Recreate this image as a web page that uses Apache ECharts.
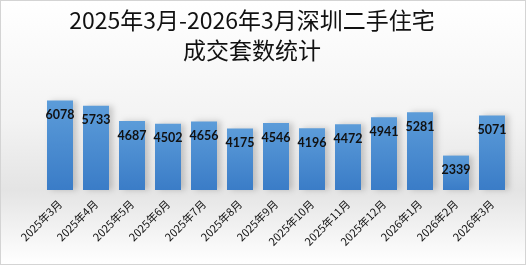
<!DOCTYPE html>
<html>
<head>
<meta charset="utf-8">
<script src="https://cdn.jsdelivr.net/npm/echarts@6/dist/echarts.min.js"></script>
<style>
html,body{margin:0;padding:0;background:#fff;}
#c{width:526px;height:265px;box-sizing:border-box;border:1px solid #d4d4d4;}
</style>
</head>
<body>
<div id="c"></div>
<script>
const categories = ['2025年3月','2025年4月','2025年5月','2025年6月','2025年7月','2025年8月','2025年9月','2025年10月','2025年11月','2025年12月','2026年1月','2026年2月','2026年3月'];
const values = [6078, 5733, 4687, 4502, 4656, 4175, 4546, 4196, 4472, 4941, 5281, 2339, 5071];
const titleLines = ['2025年3月-2026年3月深圳二手住宅', '成交套数统计'];

const chart = echarts.init(document.getElementById('c'), null, {renderer: 'canvas'});
chart.setOption({
  animation: false,
  backgroundColor: new echarts.graphic.LinearGradient(0, 0, 0, 1, [
    {offset: 0, color: '#ffffff'},
    {offset: 0.45, color: '#f3f3f3'},
    {offset: 0.72, color: '#e4e4e4'},
    {offset: 1, color: '#ffffff'}
  ]),
  title: {
    text: titleLines.join('\n'),
    left: 251,
    textAlign: 'center',
    top: 4,
    padding: 0,
    textStyle: {
      fontFamily: '"Noto Sans CJK SC", sans-serif',
      fontWeight: 'normal',
      fontSize: 23,
      lineHeight: 30,
      color: '#111'
    }
  },
  grid: {left: 41, right: 15, top: 86, bottom: 74, containLabel: false},
  xAxis: {
    type: 'category',
    data: categories,
    axisLine: {show: false},
    axisTick: {show: false},
    axisLabel: {
      rotate: 45,
      margin: 12,
      interval: 0,
      fontSize: 11,
      color: '#111',
      fontFamily: '"Noto Sans CJK SC", sans-serif'
    }
  },
  yAxis: {
    type: 'value',
    min: 0,
    max: 7000,
    show: false,
    splitLine: {show: false}
  },
  series: [{
    type: 'bar',
    data: values,
    barWidth: 26,
    itemStyle: {
      color: new echarts.graphic.LinearGradient(0, 0, 0, 1, [
        {offset: 0, color: '#5c9cd9'},
        {offset: 1, color: '#3a7cc7'}
      ]),
      shadowColor: 'rgba(0,0,0,0.18)',
      shadowBlur: 6,
      shadowOffsetX: 4,
      shadowOffsetY: 0
    },
    label: {
      show: true,
      position: 'insideTop',
      distance: 8,
      fontSize: 12.5,
      fontWeight: 'bold',
      color: '#111',
      fontFamily: 'Lato, sans-serif'
    }
  }]
});
</script>
</body>
</html>
